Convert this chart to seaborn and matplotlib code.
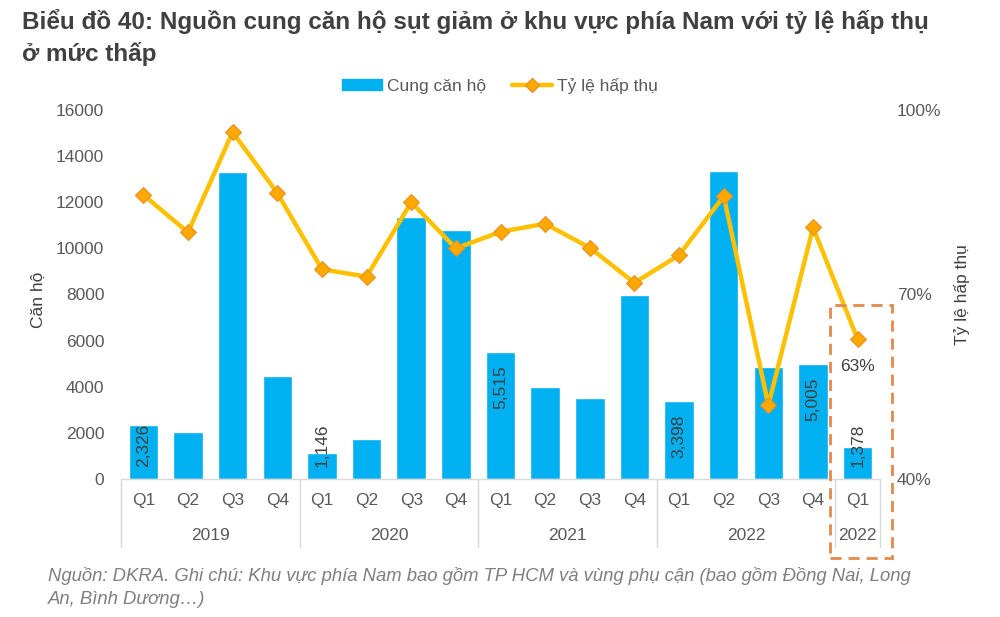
import numpy as np
import pandas as pd
import matplotlib
matplotlib.use("Agg")
import matplotlib.pyplot as plt
import matplotlib.patches as mpatches
from matplotlib.lines import Line2D
import seaborn as sns

# ---- data ----
quarters = ["Q1", "Q2", "Q3", "Q4", "Q1", "Q2", "Q3", "Q4", "Q1", "Q2", "Q3", "Q4",
            "Q1", "Q2", "Q3", "Q4", "Q1"]
years = ["2019", "2020", "2021", "2022", "2022"]
year_span = [4, 4, 4, 4, 1]
supply = [2326, 2050, 13300, 4450, 1146, 1750, 11350, 10800, 5515, 4000, 3500, 8000,
          3398, 13350, 4850, 5005, 1378]
absorption = [86.2, 80.1, 96.4, 86.5, 74.1, 72.9, 85.0, 77.5, 80.2, 81.5, 77.6, 71.9,
              76.4, 86.0, 52.0, 80.9, 62.7]
labelled_bars = [0, 4, 8, 12, 15, 16]
last_rate_label = "63%"

title = ("Biểu đồ 40: Nguồn cung căn hộ sụt giảm ở khu vực phía Nam với tỷ lệ hấp thụ\n"
         "ở mức thấp")
footnote = ("Nguồn: DKRA. Ghi chú: Khu vực phía Nam bao gồm TP HCM và vùng phụ cận (bao gồm Đồng Nai, Long\n"
            "An, Bình Dương…)")

BLUE = "#00B0F0"
GOLD = "#FFC000"
TXT = "#595959"

sns.set_theme(style="white")
plt.rcParams["font.family"] = ["Liberation Sans", "DejaVu Sans"]

W, H = 1000, 617
fig = plt.figure(figsize=(W / 100, H / 100), dpi=100)
ax_l, ax_r, ax_t, ax_b = 121, 880, 110, 479
ax = fig.add_axes([ax_l / W, 1 - ax_b / H, (ax_r - ax_l) / W, (ax_b - ax_t) / H])

x = np.arange(len(supply))
df = pd.DataFrame({"x": x, "supply": supply, "rate": absorption})

sns.barplot(data=df, x="x", y="supply", color=BLUE, saturation=1, width=0.66, ax=ax)
ax.set_xlim(-0.5, len(supply) - 0.5)
ax.set_ylim(0, 16000)
ax.set_yticks(np.arange(0, 16001, 2000))
ax.set_yticklabels([str(v) for v in range(0, 16001, 2000)])
ax.set_xticks(x)
ax.set_xticklabels(quarters)
ax.set_xlabel("")
ax.set_ylabel("")
ax.tick_params(axis="y", length=0, pad=12, labelsize=12.5, labelcolor=TXT)
ax.tick_params(axis="x", length=0, pad=10, labelsize=12.5, labelcolor=TXT)
for s in ["left", "right", "top"]:
    ax.spines[s].set_visible(False)
ax.spines["bottom"].set_color("#D9D9D9")
ax.spines["bottom"].set_linewidth(1)

# bar labels (inside end, kept above base)
px = 16000 / (ax_b - ax_t)
for i in labelled_bars:
    v = supply[i]
    yb = max(v - 12 * px - 45 * px, 12 * px)
    ax.text(i, yb, f"{v:,}", rotation=90, ha="center", va="bottom",
            fontsize=12.5, color="#404040")

# secondary axis
ax2 = ax.twinx()
sns.lineplot(data=df, x="x", y="rate", ax=ax2, color=GOLD, linewidth=3.2,
             marker="D", markersize=8, markerfacecolor="#FFA800",
             markeredgecolor="#E8912A", markeredgewidth=0.8)
ax2.set_ylim(40, 100)
ax2.set_yticks([40, 70, 100])
ax2.set_yticklabels([f"{v}%" for v in [40, 70, 100]])
ax2.set_ylabel("")
ax2.set_xlabel("")
ax2.tick_params(axis="y", length=0, pad=12, labelsize=12.5, labelcolor=TXT)
for s in ["left", "right", "top", "bottom"]:
    ax2.spines[s].set_visible(False)
ax2.annotate(last_rate_label, (x[-1], absorption[-1]), xytext=(0, -27),
             textcoords="offset pixels", ha="center", va="center",
             fontsize=12.5, color="#404040")

# year group labels and separators
unit = (ax_r - ax_l) / len(supply)
start = 0
sep_y0, sep_y1 = 1 - ax_b / H, 1 - 547 / H
for yr, n in zip(years, year_span):
    xc = ax_l + (start + n / 2) * unit
    fig.text(xc / W, 1 - 536 / H, yr, ha="center", va="center", fontsize=12.5, color=TXT)
    xs = (ax_l + start * unit) / W
    fig.add_artist(Line2D([xs, xs], [sep_y0, sep_y1], color="#D9D9D9", lw=1))
    start += n
xe = ax_r / W
fig.add_artist(Line2D([xe, xe], [sep_y0, sep_y1], color="#D9D9D9", lw=1))

# highlight box
fig.add_artist(mpatches.Rectangle((830 / W, 1 - 558 / H), 62 / W, (558 - 305) / H,
                                  fill=False, edgecolor="#E3894A", lw=2,
                                  linestyle=(0, (4, 2.5)), transform=fig.transFigure))

# axis titles
fig.text(38 / W, 1 - 300 / H, "Căn hộ", rotation=90, ha="center", va="center",
         fontsize=12.5, color="#404040")
fig.text(962 / W, 1 - 295 / H, "Tỷ lệ hấp thụ", rotation=90, ha="center", va="center",
         fontsize=12.5, color="#404040")

# legend
handles = [mpatches.Patch(color=BLUE, label="Cung căn hộ"),
           Line2D([0], [0], color=GOLD, lw=3.2, marker="D", markersize=7,
                  markerfacecolor="#FFA800", markeredgecolor="#E8912A",
                  label="Tỷ lệ hấp thụ")]
fig.legend(handles=handles, loc="center", bbox_to_anchor=(0.5, 1 - 86 / H), ncol=2,
           frameon=False, fontsize=12.5, labelcolor=TXT, handlelength=2.3,
           handleheight=0.6, columnspacing=1.5, handletextpad=0.3)

# title and footnote
fig.text(22 / W, 1 - 9 / H, title, ha="left", va="top", fontsize=17.5,
         fontweight="bold", color="#404040", linespacing=1.4)
fig.text(48 / W, 1 - 567 / H, footnote, ha="left", va="top", fontsize=13.3,
         style="italic", color="#7F7F7F", linespacing=1.45)

fig.savefig("out.png", dpi=100)
